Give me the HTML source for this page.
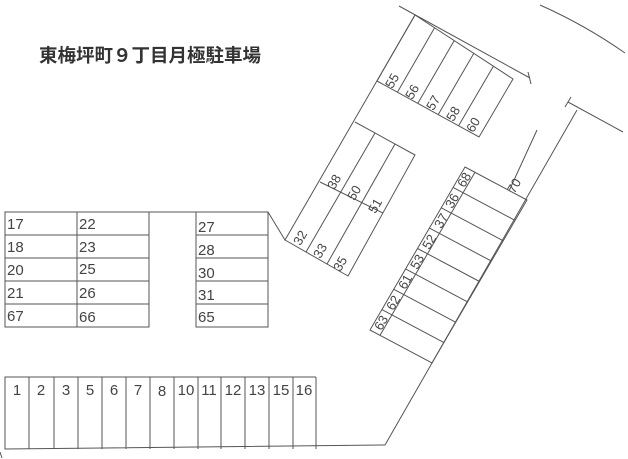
<!DOCTYPE html>
<html><head><meta charset="utf-8"><style>
html,body{margin:0;padding:0;background:#fff;}
svg{display:block}
text{font-family:"Liberation Sans",sans-serif;fill:#444;}
.t{font-family:"Liberation Sans","Noto Sans CJK JP",sans-serif;fill:#333;font-size:18.5px;font-weight:bold}
</style></head><body>
<svg width="628" height="459" viewBox="0 0 628 459" xmlns="http://www.w3.org/2000/svg">
<g stroke="#555" stroke-width="1" fill="none">
<rect x="5" y="212" width="144" height="115"/>
<line x1="77" y1="212" x2="77" y2="327"/>
<line x1="5" y1="235" x2="149" y2="235"/><line x1="5" y1="258" x2="149" y2="258"/>
<line x1="5" y1="281" x2="149" y2="281"/><line x1="5" y1="304" x2="149" y2="304"/>
<line x1="149" y1="212" x2="196" y2="212"/>
<rect x="196" y="212" width="72" height="115"/>
<line x1="196" y1="235" x2="268" y2="235"/><line x1="196" y1="258" x2="268" y2="258"/>
<line x1="196" y1="281" x2="268" y2="281"/><line x1="196" y1="304" x2="268" y2="304"/>
<polyline points="268,212 285,240 415,15"/>
<polyline points="316,377 5,377 5,449 385,445 432,363"/>
<line x1="316" y1="377" x2="316" y2="449"/>
<g>
<line x1="29" y1="377" x2="29" y2="449"/><line x1="54" y1="377" x2="54" y2="449"/>
<line x1="78" y1="377" x2="78" y2="449"/><line x1="102" y1="377" x2="102" y2="449"/>
<line x1="126" y1="377" x2="126" y2="449"/><line x1="150" y1="377" x2="150" y2="449"/>
<line x1="174" y1="377" x2="174" y2="449"/><line x1="198" y1="377" x2="198" y2="449"/>
<line x1="221" y1="377" x2="221" y2="449"/><line x1="245" y1="377" x2="245" y2="449"/>
<line x1="269" y1="377" x2="269" y2="449"/><line x1="293" y1="377" x2="293" y2="449"/>
</g>
<line x1="399" y1="6" x2="530" y2="78"/>
<line x1="528" y1="72" x2="531" y2="84"/>
<polygon points="415,15 513,79 479,137 377,81"/>
<line x1="434.6" y1="27.8" x2="397.4" y2="92.2"/>
<line x1="454.2" y1="40.6" x2="417.8" y2="103.4"/>
<line x1="473.8" y1="53.4" x2="438.2" y2="114.6"/>
<line x1="493.4" y1="66.2" x2="458.6" y2="125.8"/>
<polyline points="355,122 415,155 348,276 285,240"/>
<line x1="320" y1="182" x2="383" y2="213"/>
<line x1="375" y1="133" x2="306" y2="252"/>
<line x1="395" y1="144" x2="327" y2="264"/>
<line x1="577" y1="110" x2="432" y2="363"/>
<line x1="565" y1="107" x2="571" y2="97"/>
<line x1="568" y1="102" x2="623" y2="132"/>
<line x1="537" y1="130" x2="509" y2="191"/>
<path d="M540 5 Q585 25 625 53"/>
<polygon points="465,167 527,200 432,363 370,330"/>
<line x1="475" y1="172.3" x2="380" y2="335.3"/>
<line x1="453.1" y1="187.4" x2="515.1" y2="220.4"/>
<line x1="441.3" y1="207.8" x2="503.3" y2="240.8"/>
<line x1="429.4" y1="228.1" x2="491.4" y2="261.1"/>
<line x1="417.5" y1="248.5" x2="479.5" y2="281.5"/>
<line x1="405.6" y1="268.9" x2="467.6" y2="301.9"/>
<line x1="393.8" y1="289.3" x2="455.8" y2="322.3"/>
<line x1="381.9" y1="309.6" x2="443.9" y2="342.6"/>
<line x1="0" y1="452" x2="2" y2="458"/>
</g>
<text class="t" x="39" y="62">東梅坪町９丁目月極駐車場</text>
<g font-size="15">
<text x="7" y="229">17</text><text x="7" y="252">18</text><text x="7" y="275">20</text><text x="7" y="298">21</text><text x="7" y="321">67</text>
<text x="79" y="229">22</text><text x="79" y="252">23</text><text x="79" y="274">25</text><text x="79" y="298">26</text><text x="79" y="322">66</text>
<text x="198" y="232">27</text><text x="198" y="255">28</text><text x="198" y="278">30</text><text x="198" y="300">31</text><text x="198" y="322">65</text>
</g>
<g font-size="15" text-anchor="middle">
<text x="17" y="395">1</text><text x="41" y="395">2</text><text x="66" y="395">3</text><text x="90" y="395">5</text>
<text x="114" y="395">6</text><text x="138" y="395">7</text><text x="162" y="396">8</text><text x="186" y="395">10</text>
<text x="209" y="395">11</text><text x="233" y="395">12</text><text x="257" y="395">13</text><text x="281" y="395">15</text><text x="304" y="395">16</text>
</g>
<g font-size="13" text-anchor="middle">
<text transform="translate(396,83) rotate(-60)">55</text>
<text transform="translate(416,94) rotate(-60)">56</text>
<text transform="translate(437,105) rotate(-60)">57</text>
<text transform="translate(457,116) rotate(-60)">58</text>
<text transform="translate(477,127) rotate(-60)">60</text>
<text transform="translate(338,184) rotate(-60)">38</text>
<text transform="translate(358,195) rotate(-60)">50</text>
<text transform="translate(379,208) rotate(-60)">51</text>
<text transform="translate(304,240) rotate(-60)">32</text>
<text transform="translate(324,253) rotate(-60)">33</text>
<text transform="translate(344,266) rotate(-60)">35</text>
<text transform="translate(518,188) rotate(-60)">70</text>
<text transform="translate(468,182) rotate(-60)">68</text>
<text transform="translate(456,203) rotate(-60)">36</text>
<text transform="translate(445,223) rotate(-60)">37</text>
<text transform="translate(433,244) rotate(-60)">52</text>
<text transform="translate(421,264) rotate(-60)">53</text>
<text transform="translate(409,284) rotate(-60)">61</text>
<text transform="translate(397,305) rotate(-60)">62</text>
<text transform="translate(385,325) rotate(-60)">63</text>
</g>
</svg>
</body></html>
